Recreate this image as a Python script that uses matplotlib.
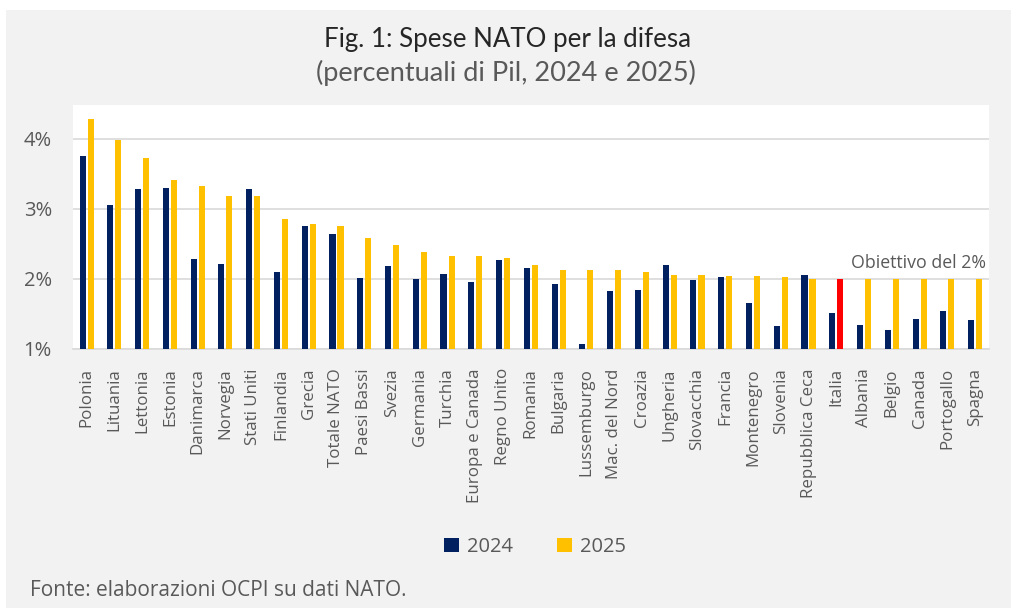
import matplotlib.pyplot as plt
from matplotlib.patches import Rectangle
import numpy as np

plt.rcParams['font.family'] = ['Open Sans', 'DejaVu Sans']

# dati (% del Pil)
paesi = ['Polonia', 'Lituania', 'Lettonia', 'Estonia', 'Danimarca', 'Norvegia',
         'Stati Uniti', 'Finlandia', 'Grecia', 'Totale NATO', 'Paesi Bassi',
         'Svezia', 'Germania', 'Turchia', 'Europa e Canada', 'Regno Unito',
         'Romania', 'Bulgaria', 'Lussemburgo', 'Mac. del Nord', 'Croazia',
         'Ungheria', 'Slovacchia', 'Francia', 'Montenegro', 'Slovenia',
         'Repubblica Ceca', 'Italia', 'Albania', 'Belgio', 'Canada',
         'Portogallo', 'Spagna']
spesa_2024 = [3.75, 3.06, 3.29, 3.30, 2.28, 2.21, 3.29, 2.10, 2.76, 2.64, 2.01,
              2.19, 1.99, 2.07, 1.96, 2.27, 2.16, 1.92, 1.07, 1.83, 1.84,
              2.20, 1.98, 2.03, 1.65, 1.33, 2.06, 1.51, 1.34, 1.27, 1.42,
              1.54, 1.41]
spesa_2025 = [4.29, 3.99, 3.73, 3.41, 3.33, 3.19, 3.18, 2.86, 2.79, 2.76, 2.58,
              2.49, 2.38, 2.32, 2.32, 2.30, 2.20, 2.13, 2.12, 2.12, 2.09,
              2.06, 2.05, 2.04, 2.04, 2.03, 2.00, 2.00, 2.00, 2.00, 2.00,
              2.00, 2.00]
yticks = [1, 2, 3, 4]

navy = '#002060'
giallo = '#FFC000'
rosso = '#FF0000'
grigio_testo = '#595959'

W, H = 1011, 608
fig = plt.figure(figsize=(W / 100, H / 100), dpi=100)
fig.patch.set_facecolor('white')
# sfondo grigio
fig.patches.append(Rectangle((6 / W, 0), 1 - 6 / W, 1 - 10 / H, transform=fig.transFigure,
                             facecolor='#f2f2f2', edgecolor='none', zorder=-5))

ax = fig.add_axes([72.7 / W, 1 - 348.7 / H, (989 - 72.7) / W, (348.7 - 104.7) / H])
ax.set_zorder(2)
ax.set_facecolor('white')

x = np.arange(len(paesi))
larg = 0.22
col_2025 = [rosso if p == 'Italia' else giallo for p in paesi]
ax.bar(x - 0.145, spesa_2024, larg, bottom=0, color=navy, label='2024', zorder=3)
ax.bar(x + 0.145, spesa_2025, larg, bottom=0, color=col_2025, label='2025', zorder=3)

ax.set_xlim(-0.5, len(paesi) - 0.5)
ax.set_ylim(1, 4.49)
ax.set_yticks(yticks)
ax.set_yticklabels([f'{v}%' for v in yticks], fontsize=14.5, color=grigio_testo)
ax.set_xticks(x)
ax.set_xticklabels(paesi, rotation=90, fontsize=12.2, color=grigio_testo)
ax.tick_params(length=0)
ax.tick_params(axis='y', pad=15)
ax.tick_params(axis='x', pad=14)
ax.yaxis.grid(True, color='#d9d9d9', linewidth=1.2, zorder=0)
ax.set_axisbelow(True)
for s in ['top', 'right', 'left']:
    ax.spines[s].set_visible(False)
ax.spines['bottom'].set_color('#d9d9d9')
ax.spines['bottom'].set_linewidth(1.2)

ax.text(len(paesi) - 0.6, 2.09, 'Obiettivo del 2%', ha='right', va='bottom',
        fontsize=12.8, color=grigio_testo)

# titoli
fig.text(508 / W, 1 - 40 / H, 'Fig. 1: Spese NATO per la difesa', ha='center', va='center',
         fontsize=18.6, color='#262626', family=['Lato', 'DejaVu Sans'])
fig.text(506 / W, 1 - 73 / H, '(percentuali di Pil, 2024 e 2025)', ha='center', va='center',
         fontsize=19.5, color=grigio_testo, family=['Lato', 'DejaVu Sans'])

# legenda
leg = fig.legend(loc='center', bbox_to_anchor=(535 / W, 1 - 547 / H), ncol=2, frameon=False,
                 fontsize=14.5, handlelength=0.75, handleheight=0.75, columnspacing=2.15,
                 handletextpad=0.4)
for t in leg.get_texts():
    t.set_color(grigio_testo)

fig.text(30 / W, 1 - 591 / H, 'Fonte: elaborazioni OCPI su dati NATO.', ha='left', va='center',
         fontsize=15, color=grigio_testo)

fig.savefig('out.png', dpi=100, facecolor=fig.get_facecolor())
